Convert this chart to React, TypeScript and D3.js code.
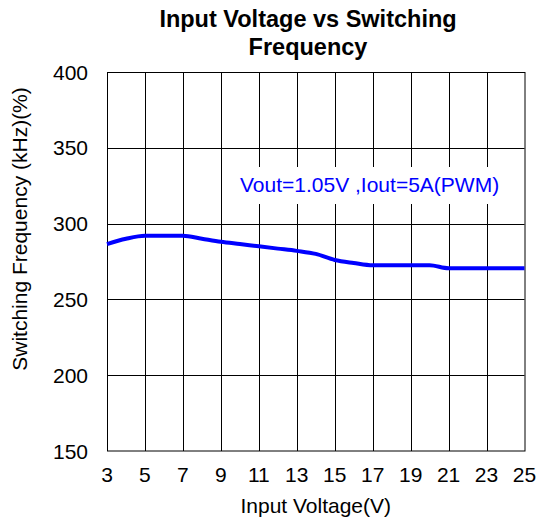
import React, { useEffect, useRef } from 'react';
import * as d3 from 'd3';

// Input voltage (V) vs switching frequency (kHz)
const inputVoltage = [3, 4, 5, 6, 7, 8, 9, 10, 11, 12, 13, 14, 15, 16, 17, 18, 19, 20, 21, 22, 23, 24, 25];
const switchingFreq = [286.5, 290, 292, 292, 292, 290, 288, 286.5, 285, 283.5, 282, 280, 276, 274, 272.5, 272.5, 272.5, 272.5, 270.5, 270.5, 270.5, 270.5, 270.5];

const xTicks = [3, 5, 7, 9, 11, 13, 15, 17, 19, 21, 23, 25];
const yTicks = [150, 200, 250, 300, 350, 400];

const titleLines = ['Input Voltage vs Switching', 'Frequency'];
const annotation = 'Vout=1.05V ,Iout=5A(PWM)';

const W = 545;
const H = 519;
const FONT = 'Arial, "Liberation Sans", sans-serif';

export default function App() {
  const svgRef = useRef<SVGSVGElement>(null);

  useEffect(() => {
    if (!svgRef.current) return;
    const svg = d3.select(svgRef.current);
    svg.selectAll('*').remove();

    const margin = { top: 72, right: 20.5, bottom: 68, left: 107 };
    const innerWidth = W - margin.left - margin.right;
    const innerHeight = H - margin.top - margin.bottom;

    const x = d3.scaleLinear().domain([3, 25]).range([0, innerWidth]);
    const y = d3.scaleLinear().domain([150, 400]).range([innerHeight, 0]);

    svg.append('rect').attr('width', W).attr('height', H).attr('fill', '#fff');

    const g = svg.append('g').attr('transform', `translate(${margin.left},${margin.top})`);

    // grid
    g.selectAll('.vgrid')
      .data(xTicks.slice(1, -1))
      .enter()
      .append('line')
      .attr('x1', d => Math.round(x(d)) + 0.5)
      .attr('x2', d => Math.round(x(d)) + 0.5)
      .attr('y1', 0)
      .attr('y2', innerHeight)
      .attr('stroke', '#000')
      .attr('stroke-width', 1);

    g.selectAll('.hgrid')
      .data(yTicks.slice(1, -1))
      .enter()
      .append('line')
      .attr('x1', 0)
      .attr('x2', innerWidth)
      .attr('y1', d => Math.round(y(d)) + 0.5)
      .attr('y2', d => Math.round(y(d)) + 0.5)
      .attr('stroke', '#000')
      .attr('stroke-width', 1);

    // annotation box covers the grid
    g.append('rect')
      .attr('x', 125)
      .attr('y', 95)
      .attr('width', 280)
      .attr('height', 37)
      .attr('fill', '#fff');

    g.append('text')
      .attr('x', 133)
      .attr('y', 120)
      .attr('fill', '#0000ff')
      .style('font-family', FONT)
      .style('font-size', '21px')
      .text(annotation);

    // frame
    g.append('rect')
      .attr('x', 0.5)
      .attr('y', 0.5)
      .attr('width', innerWidth)
      .attr('height', innerHeight - 0.5)
      .attr('fill', 'none')
      .attr('stroke', '#000')
      .attr('stroke-width', 1);

    // series
    const line = d3.line<number>()
      .x((_, i) => x(inputVoltage[i]))
      .y(d => y(d))
      .curve(d3.curveMonotoneX);

    g.append('path')
      .datum(switchingFreq)
      .attr('d', line)
      .attr('fill', 'none')
      .attr('stroke', '#0000ff')
      .attr('stroke-width', 4)
      .attr('stroke-linejoin', 'round');

    // tick labels
    g.selectAll('.xlabel')
      .data(xTicks)
      .enter()
      .append('text')
      .attr('x', d => x(d))
      .attr('y', innerHeight + 31)
      .attr('text-anchor', 'middle')
      .style('font-family', FONT)
      .style('font-size', '21px')
      .attr('fill', '#000')
      .text(d => d);

    g.selectAll('.ylabel')
      .data(yTicks)
      .enter()
      .append('text')
      .attr('x', -19)
      .attr('y', d => y(d) + 7.5)
      .attr('text-anchor', 'end')
      .style('font-family', FONT)
      .style('font-size', '21px')
      .attr('fill', '#000')
      .text(d => d);

    // axis titles
    svg.append('text')
      .attr('x', margin.left + innerWidth / 2)
      .attr('y', 513)
      .attr('text-anchor', 'middle')
      .style('font-family', FONT)
      .style('font-size', '21px')
      .attr('fill', '#000')
      .text('Input Voltage(V)');

    svg.append('text')
      .attr('transform', 'translate(27,229) rotate(-90)')
      .attr('text-anchor', 'middle')
      .style('font-family', FONT)
      .style('font-size', '21px')
      .attr('fill', '#000')
      .text('Switching Frequency (kHz)(%)');

    // title
    svg.selectAll('.title')
      .data(titleLines)
      .enter()
      .append('text')
      .attr('x', 308)
      .attr('y', (_, i) => 27 + i * 28)
      .attr('text-anchor', 'middle')
      .style('font-family', FONT)
      .style('font-size', '23.5px')
      .style('font-weight', 'bold')
      .attr('fill', '#000')
      .text(d => d);
  }, []);

  return (
    <svg
      ref={svgRef}
      width={W}
      height={H}
      style={{ position: 'absolute', left: 0, top: 0 }}
    />
  );
}
